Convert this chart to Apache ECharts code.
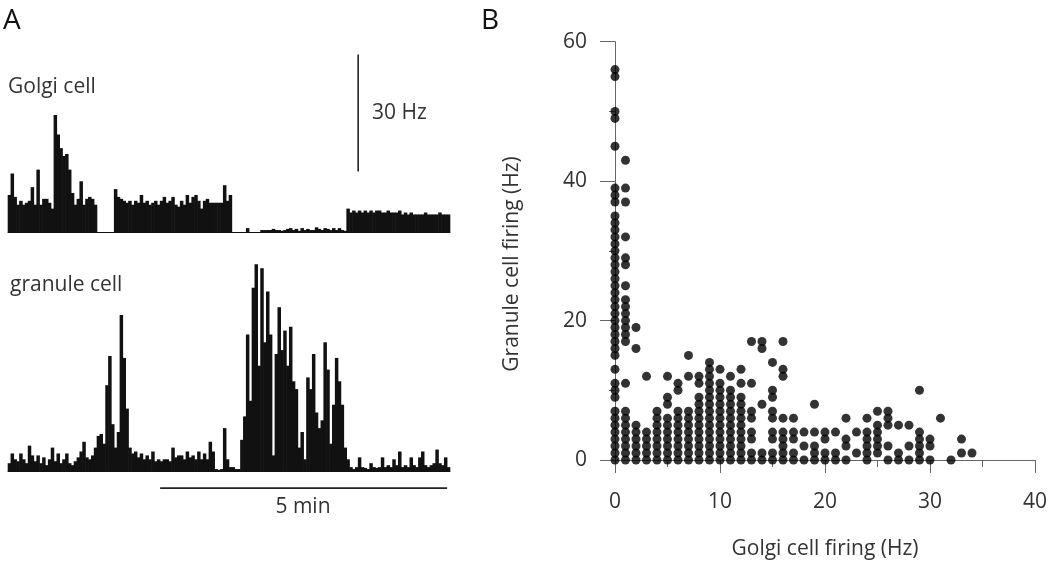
<!DOCTYPE html>
<html><head><meta charset="utf-8">
<script src="https://cdn.jsdelivr.net/npm/echarts@6/dist/echarts.min.js"></script>
<style>html,body{margin:0;padding:0;background:#fff}#c{width:1050px;height:565px}</style>
</head><body><div id="c"></div>
<script>
// ---- Panel A: firing-rate histograms (3 s bins, Hz) ----
const binSeconds = 3;
const golgiRate = [
  9.5, 15, 9, 7, 8, 7, 7.5, 8, 11.5, 7,
  16, 7, 8.5, 8.5, 7.5, 6, 30, 25, 21.5, 19.5,
  20, 16, 10, 7, 8.5, 13, 7, 8.5, 9, 8.5,
  7, 0, 0, 0, 0, 0, 0, 11, 9, 8.5,
  8, 7.5, 8, 7, 8, 7.5, 9.5, 7.5, 8, 7,
  7.5, 8, 7, 8, 9, 7.5, 8, 9, 7, 6.5,
  8, 7, 9.5, 7.5, 9, 9.5, 8, 6, 8, 8.5,
  7.5, 7.5, 7.5, 7.5, 7.5, 12, 8, 9.5, 0, 0,
  0, 0, 0, 1, 0, 0, 0, 0, 0.5, 0.5,
  0.5, 0.5, 0.8, 0.5, 0.5, 0.3, 0.5, 0.8, 1, 0.5,
  0.8, 0.3, 1, 0.5, 0.8, 0.5, 0.5, 1.2, 0.8, 0.5,
  1, 0.8, 0.5, 1, 0.5, 1, 0.5, 0.3, 6, 5,
  5.5, 5, 5.5, 5, 5.5, 5, 5.5, 5, 5.5, 5.5,
  5, 5, 5.5, 5, 5, 5, 5.5, 4.5, 5, 4.5,
  5, 4.5, 4.5, 4.5, 4.5, 5, 4.5, 4.5, 4.5, 4.5,
  5, 4.5, 4.5, 4.5
];
const granuleRate = [
  2, 4.5, 3, 2.5, 4.5, 3, 2, 6.5, 4, 2.5,
  4, 2, 3.5, 1.5, 3, 6, 2.5, 4.5, 2, 3,
  4.5, 2, 1.5, 2.5, 3.5, 5, 7.5, 3.5, 3, 4,
  6, 9, 9.5, 7, 22, 29.5, 12, 6, 10, 40,
  29, 16, 6, 4.5, 5, 3.5, 4.5, 3, 4, 3,
  5, 2.5, 3, 2.5, 3, 3, 2.5, 6, 3.5, 4,
  4, 3, 5, 3.5, 4, 3, 5, 3, 4.5, 3,
  7.5, 5, 0.5, 0.3, 0.5, 11, 3, 1, 1, 0.5,
  0.5, 8, 14, 35, 18, 47, 53, 27, 52, 33,
  46, 35, 4, 30, 42, 31, 36, 27, 37, 23,
  21, 6, 10, 3, 24, 21, 30, 15, 11, 13,
  33, 26, 7, 17, 29, 23, 17, 6, 3, 1,
  0.5, 1, 3.5, 1, 0.8, 0.5, 2, 1, 0.8, 1,
  3.5, 1, 1.5, 1, 3, 1.5, 5, 1, 1.5, 1,
  3.5, 1.5, 1, 3.5, 5, 1.5, 1, 1.5, 2, 5.5,
  2, 1.5, 3.5, 1
];
// scale bars (data units)
const scaleTimeStart = 159;      // s
const scaleTimeLength = 300;     // 5 min
const scaleTimeBarLevel = -4.4;  // Hz (below baseline)
const scaleHzTime = 366;         // s
const scaleHzFrom = 15.5;
const scaleHzLength = 30;        // 30 Hz

// ---- Panel B: scatter; index = Golgi rate (Hz), values = granule rates (Hz) ----
const scatterColumns = [
  [56,55,50,49,45,39,38,37,35,34,33,32,31,30,29,28,27,26,25,24,23,22,21,20,19,18,17,16,15,13,11,10,9,7,6,5,4,3,2,1,0],
  [43,39,37,32,29,28,25,23,22,21,20,19,18,17,11,7,6,5,4,3,2,1,0],
  [19,16,5,4,3,2,1,0],
  [12,4,3,2,1,0],
  [7,6,5,4,3,2,1,0],
  [12,9,8,6,5,4,3,2,1,0],
  [11,10,7,6,5,4,3,2,1,0],
  [15,12,7,6,5,4,3,2,1,0],
  [12,11,9,8,7,6,5,4,3,2,1,0],
  [14,13,12,11,10,9,8,7,6,5,4,3,2,1,0],
  [13,11,10,9,8,7,6,5,4,3,2,1,0],
  [12,10,9,8,7,6,5,4,3,2,1,0],
  [13,11,9,8,7,6,5,4,3,2,1,0],
  [17,11,7,6,4,3,1,0],
  [17,16,8,1,0],
  [14,10,9,7,6,4,3,1,0],
  [17,13,12,6,4,3,2,1,0],
  [6,4,3,1,0],
  [4,2,0],
  [8,4,2,1,0],
  [4,3,1,0],
  [4,1,0],
  [6,3,2,0],
  [4,1],
  [6,4,3,2,1,0],
  [7,5,4,3,2,1],
  [7,6,5,2,0],
  [5,1,0],
  [5,2,0],
  [10,4,3,2,1,0],
  [3,2,0],
  [6],
  [0],
  [3,1],
  [1]
];
const xTicksB = [0, 10, 20, 30, 40];
const yTicksB = [0, 20, 40, 60];

const FONT = '"Open Sans", "Noto Sans", sans-serif';
const golgiData = golgiRate.map((v, i) => [i * binSeconds + binSeconds / 2, v]);
const granuleData = granuleRate.map((v, i) => [i * binSeconds + binSeconds / 2, v]);
const scatterData = [];
scatterColumns.forEach((col, x) => col.forEach(y => scatterData.push([x, y])));
const tMax = golgiRate.length * binSeconds;

const hiddenY = { type: 'value', show: false, splitLine: { show: false } };
const timeAxis = gi => ({
  gridIndex: gi, type: 'value', min: 0, max: tMax,
  axisLine: { show: true, onZero: true, lineStyle: { color: '#111', width: 1 } },
  axisTick: { show: false }, axisLabel: { show: false }, splitLine: { show: false }
});

const chart = echarts.init(document.getElementById('c'), null, { renderer: 'canvas' });
chart.setOption({
  animation: false,
  backgroundColor: '#fff',
  grid: [
    { left: 8, width: 442, top: 52.6, height: 179.4 },
    { left: 8, width: 442, top: 256.5, height: 234 },
    { left: 615, width: 421, top: 41.7, height: 420 }
  ],
  xAxis: [
    timeAxis(0), timeAxis(1),
    {
      gridIndex: 2, type: 'value', min: xTicksB[0], max: xTicksB[xTicksB.length - 1], interval: 10,
      axisLine: { show: true, onZero: false, lineStyle: { color: '#666', width: 1 } },
      axisTick: { show: true, length: 13, lineStyle: { color: '#666' } },
      minorTick: { show: true, splitNumber: 2, length: 7, lineStyle: { color: '#666' } },
      splitLine: { show: false },
      axisLabel: { margin: 32, fontSize: 21, color: '#333', fontFamily: FONT },
      name: 'Golgi cell firing (Hz)', nameLocation: 'middle', nameGap: 79,
      nameTextStyle: { fontSize: 21, color: '#333', fontFamily: FONT }
    }
  ],
  yAxis: [
    Object.assign({ gridIndex: 0, min: 0, max: 46 }, hiddenY),
    Object.assign({ gridIndex: 1, min: -5, max: 55 }, hiddenY),
    {
      gridIndex: 2, type: 'value', min: yTicksB[0], max: yTicksB[yTicksB.length - 1], interval: 20,
      axisLine: { show: true, onZero: false, lineStyle: { color: '#666', width: 1 } },
      axisTick: { show: true, length: 15, lineStyle: { color: '#666' } },
      minorTick: { show: true, splitNumber: 2, length: 6, lineStyle: { color: '#666' } },
      splitLine: { show: false },
      axisLabel: { margin: 28, fontSize: 21, color: '#333', fontFamily: FONT }
    }
  ],
  series: [
    { type: 'bar', xAxisIndex: 0, yAxisIndex: 0, data: golgiData, barWidth: 3.5,
      itemStyle: { color: '#111' }, silent: true },
    { type: 'bar', xAxisIndex: 1, yAxisIndex: 1, data: granuleData, barWidth: 3.5,
      itemStyle: { color: '#111' }, silent: true },
    { type: 'line', xAxisIndex: 0, yAxisIndex: 0, symbol: 'none', silent: true,
      data: [[scaleHzTime, scaleHzFrom], [scaleHzTime, scaleHzFrom + scaleHzLength]],
      lineStyle: { color: '#222', width: 1.6 } },
    { type: 'line', xAxisIndex: 1, yAxisIndex: 1, symbol: 'none', silent: true,
      data: [[scaleTimeStart, scaleTimeBarLevel], [scaleTimeStart + scaleTimeLength, scaleTimeBarLevel]],
      lineStyle: { color: '#222', width: 1.6 } },
    { type: 'scatter', xAxisIndex: 2, yAxisIndex: 2, data: scatterData, symbolSize: 9,
      itemStyle: { color: '#000' }, silent: true }
  ],
  graphic: [
    { type: 'text', style: { text: 'A', x: 3, y: 21, fontSize: 28, fontFamily: FONT, fill: '#111', verticalAlign: 'middle' } },
    { type: 'text', style: { text: 'B', x: 481, y: 21, fontSize: 28, fontFamily: FONT, fill: '#111', verticalAlign: 'middle' } },
    { type: 'text', style: { text: 'Golgi cell', x: 8, y: 87, fontSize: 21, fontFamily: FONT, fill: '#333', verticalAlign: 'middle' } },
    { type: 'text', style: { text: 'granule cell', x: 10, y: 285, fontSize: 21, fontFamily: FONT, fill: '#333', verticalAlign: 'middle' } },
    { type: 'text', style: { text: '30 Hz', x: 372, y: 113, fontSize: 21, fontFamily: FONT, fill: '#333', verticalAlign: 'middle' } },
    { type: 'text', style: { text: '5 min', x: 303, y: 507, fontSize: 21, fontFamily: FONT, fill: '#333', align: 'center', verticalAlign: 'middle' } },
    { type: 'text', x: 512, y: 264, rotation: Math.PI / 2,
      style: { text: 'Granule cell firing (Hz)', x: 0, y: 0, fontSize: 21, fontFamily: FONT, fill: '#333', align: 'center', verticalAlign: 'middle' } }
  ]
});
</script>
</body></html>
